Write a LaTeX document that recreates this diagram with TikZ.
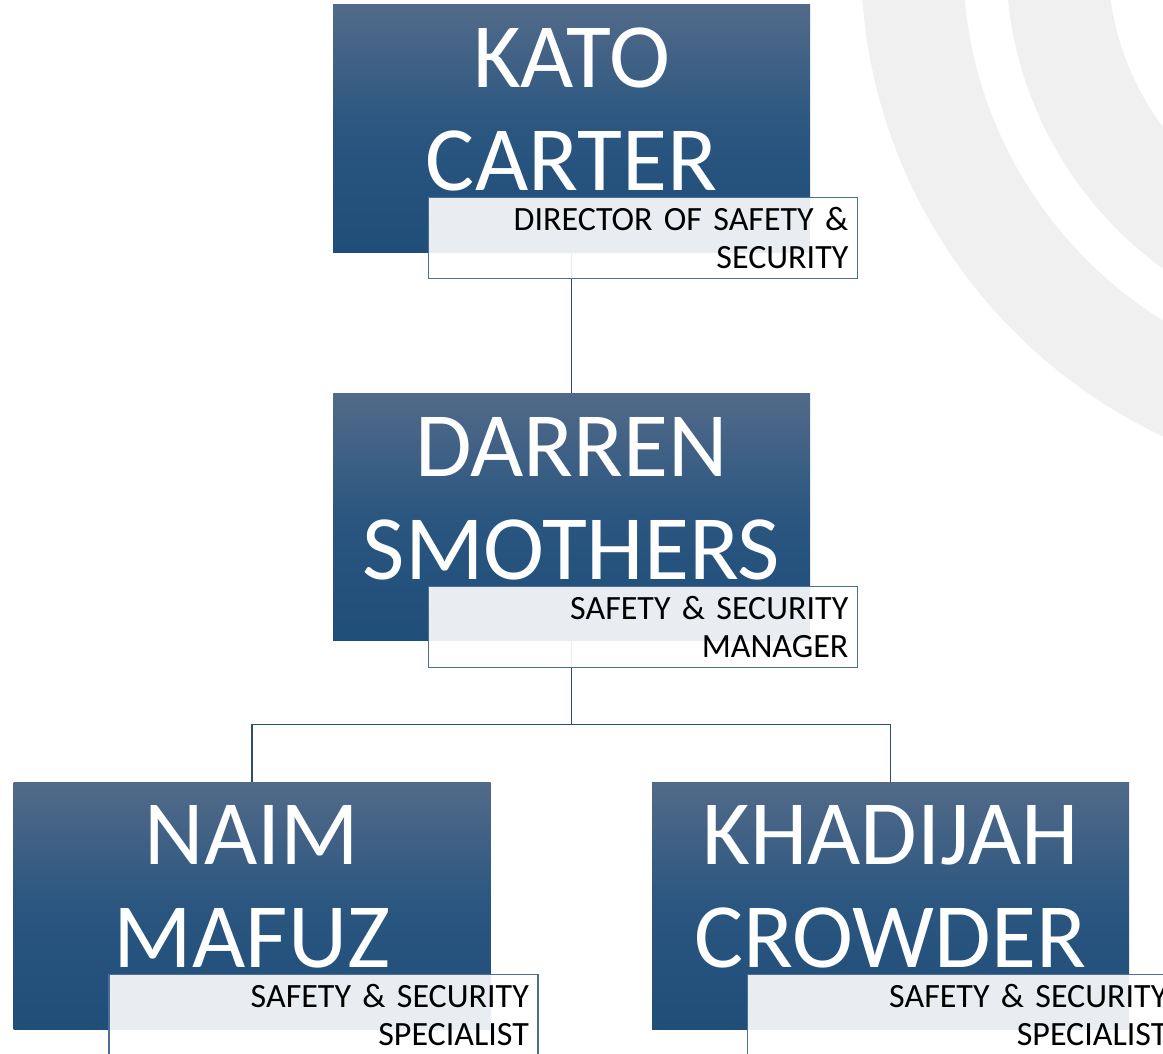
\documentclass[tikz,border=0pt]{standalone}
\usepackage{fontspec}
\setmainfont{Carlito}
\definecolor{boxtop}{RGB}{82,106,137}
\definecolor{boxmid}{RGB}{42,86,128}
\definecolor{boxbot}{RGB}{31,78,120}
\definecolor{rolebord}{RGB}{77,111,150}
\definecolor{linkblue}{RGB}{46,78,110}
\definecolor{arcgray}{RGB}{240,240,240}
\newcommand{\lowstrut}{\rule[-38pt]{0pt}{38pt}}
\begin{document}
\begin{tikzpicture}[x=1pt,y=-1pt,
    main node/.style={rectangle,minimum width=477pt,minimum height=247pt,inner sep=0pt,top color=boxtop,bottom color=boxbot,middle color=boxmid,text=white,align=center,font=\fontsize{92}{103}\selectfont},
    role node/.style={rectangle,draw=rolebord,line width=1.2pt,fill=white,fill opacity=0.9,text opacity=1,text width=411pt,inner xsep=9pt,inner ysep=0pt,minimum height=81pt,align=right,anchor=north west,font=\fontsize{34}{38}\selectfont},
    link/.style={draw=linkblue,line width=1.4pt}]
        \useasboundingbox (0,0) rectangle (1163,1054);
        \clip (0,0) rectangle (1163,1054);

        % background arcs
        \fill[arcgray,even odd rule] (1386,-39) circle[radius=525] circle[radius=423];
        \fill[arcgray,even odd rule] (1386,-39) circle[radius=380] circle[radius=278];

        \node[main node] at (571.5,128.5) (kato) {KATO\\CARTER\lowstrut};
        \node[main node] at (571.5,517) (darren) {DARREN\\SMOTHERS\lowstrut};
        \node[main node] at (252,905.5) (naim) {NAIM\\MAFUZ\lowstrut};
        \node[main node] at (890.5,905.5) (khadijah) {KHADIJAH\\CROWDER\lowstrut};

        \draw[link] (kato.south) -- (darren.north);
        \draw[link] (darren.south) -- ++(0,84) -| (naim.north);
        \draw[link] (darren.south) -- ++(0,84) -| (khadijah.north);

        \node[role node] at ([xshift=95pt,yshift=55pt]kato.south west) (katorole) {DIRECTOR OF SAFETY \&\\SECURITY};
        \node[role node] at ([xshift=95pt,yshift=55pt]darren.south west) (darrenrole) {SAFETY \& SECURITY\\MANAGER};
        \node[role node] at ([xshift=95pt,yshift=55pt]naim.south west) (naimrole) {SAFETY \& SECURITY\\SPECIALIST};
        \node[role node] at ([xshift=95pt,yshift=55pt]khadijah.south west) (khadijahrole) {SAFETY \& SECURITY\\SPECIALIST};
        \end{tikzpicture}
\end{document}
